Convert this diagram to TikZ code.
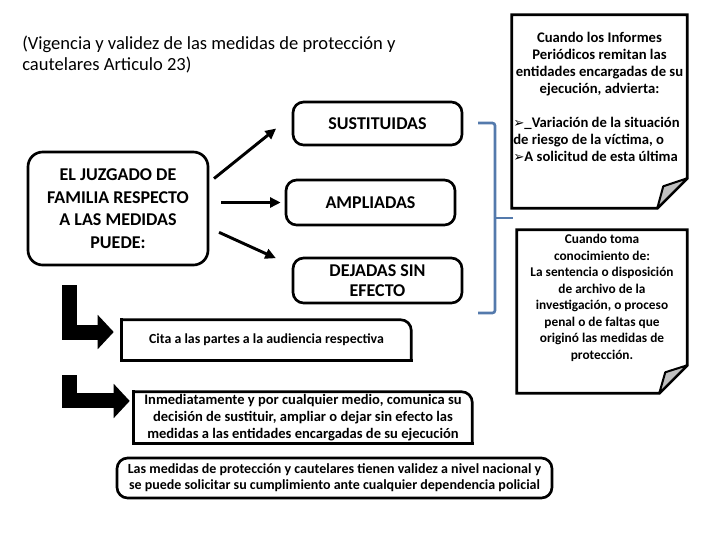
\documentclass[tikz,border=0pt]{standalone}
\usepackage{fontspec}
\setmainfont{Carlito}
\newfontfamily\dejavu{DejaVu Sans}
\usetikzlibrary{arrows.meta}
\definecolor{azul}{RGB}{84,122,172}
\newcommand{\vineta}{{\dejavu\fontsize{10}{10}\selectfont\char"27A2}}

\begin{document}
\begin{tikzpicture}[x=0.75pt,y=-0.75pt,
  caja/.style={draw, line width=2pt, rounded corners=8pt, align=center, inner sep=0pt},
  mayus/.style={font=\fontsize{13.5}{15}\selectfont\bfseries},
  marco/.style={line width=2pt, line cap=rect},
  flecha/.style={line width=2.2pt, -{Triangle[length=8pt,width=7.5pt]}},
  bloque/.style={line width=11.25pt, line join=miter, -{Triangle[length=12pt,width=25pt]}},
  hoja/.style={line width=2.2pt, line join=miter},
  pliegue/.style={line width=1.5pt, line join=round, fill=gray!50},
  corchete/.style={azul, line width=2pt, rounded corners=2pt}]
\useasboundingbox (0,0) rectangle (720,540);

\node[inner sep=0pt, anchor=west, align=left, font=\fontsize{13.9}{15.75}\selectfont] (titulo) at (22,55) {(Vigencia y validez de las medidas de protección y\\cautelares Articulo 23)};

\node[caja, rounded corners=11pt, minimum width=135pt, minimum height=84.75pt, font=\fontsize{13.5}{16.9}\selectfont\bfseries] (juzgado) at (118,208.5) {EL JUZGADO DE\\FAMILIA RESPECTO\\A LAS MEDIDAS\\PUEDE:};

\node[caja, mayus, minimum width=126.75pt, minimum height=32.25pt] (sust) at (377.5,123.5) {SUSTITUIDAS};
\node[caja, mayus, minimum width=126.75pt, minimum height=33.75pt] (ampl) at (370.5,202.5) {AMPLIADAS};
\node[caja, mayus, minimum width=126.75pt, minimum height=33.75pt] (dej) at (377.5,280.5) {DEJADAS SIN\\EFECTO};

\draw[flecha, shorten <=4.5pt, shorten >=15pt] (juzgado.16) -- (sust.175);
\draw[flecha, shorten <=9pt, shorten >=3pt] (juzgado.east |- ampl.west) -- (ampl.west);
\draw[flecha, shorten <=8pt, shorten >=13pt] (juzgado.-12) -- (dej.170);

\node[inner sep=0pt, align=center, minimum width=216.75pt, minimum height=30pt, font=\fontsize{10.4}{13}\selectfont\bfseries] (cita) at (266.5,340) {Cita a las partes a la audiencia respectiva};
\draw[marco] (cita.north west) |- (cita.south east);
\draw[marco, rounded corners=8pt] (cita.north west) -| (cita.south east);

\node[inner sep=0pt, align=center, minimum width=253.5pt, minimum height=38.25pt, font=\fontsize{10.9}{12.75}\selectfont\bfseries] (comunica) at (303,417.5) {Inmediatamente y por cualquier medio, comunica su\\decisión de sustituir, ampliar o dejar sin efecto las\\medidas a las entidades encargadas de su ejecución};
\draw[marco] (comunica.north west) |- (comunica.south east);
\draw[marco, rounded corners=8pt] (comunica.north west) -| (comunica.south east);

\node[caja, font=\fontsize{10.5}{12}\selectfont\bfseries, minimum width=326.25pt, minimum height=30pt] (validez) at (334.5,478) {Las medidas de protección y cautelares tienen validez a nivel nacional y\\se puede solicitar su cumplimiento ante cualquier dependencia policial};

\coordinate (ini1) at (69.5,285);
\coordinate (ini2) at (69.5,375);
\draw[bloque, shorten >=6pt] (ini1) |- ([yshift=6pt]cita.west);
\draw[bloque, shorten >=3pt] (ini2) |- ([yshift=12.4pt]comunica.west);

\draw[corchete] (478,123) -- (495,123) -- (495,313) -- (478,313);
\draw[corchete] (495,218) -- (513,218);

\node[inner sep=0pt, minimum width=131.25pt, minimum height=144.75pt] (informes) at (599.5,111.5) {};
\draw[hoja] (informes.north west) -- (informes.north east) -- ([yshift=22.5pt]informes.south east) -- ([xshift=-22.5pt]informes.south east) -- (informes.south west) -- cycle;
\draw[pliegue] ([yshift=22.5pt]informes.south east) -- ([xshift=-22.5pt]informes.south east) -- ([xshift=-18pt,yshift=16.5pt]informes.south east) -- cycle;
\node[inner sep=0pt, align=center, font=\fontsize{11}{12.6}\selectfont\bfseries] (advierta) at (599.5,64) {Cuando los Informes\\Periódicos remitan las\\entidades encargadas de su\\ejecución, advierta:};
\node[inner sep=0pt, anchor=west, align=left, font=\fontsize{11}{12.75}\selectfont\bfseries] (riesgo) at (513,139) {\vineta\_Variación de la situación\\de riesgo de la víctima, o\\\vineta A solicitud de esta última};

\node[inner sep=0pt, minimum width=127.5pt, minimum height=122.25pt] (toma) at (602,311.5) {};
\draw[hoja] (toma.north west) -- (toma.north east) -- ([yshift=21pt]toma.south east) -- ([xshift=-21pt]toma.south east) -- (toma.south west) -- cycle;
\draw[pliegue] ([yshift=21pt]toma.south east) -- ([xshift=-21pt]toma.south east) -- ([xshift=-16.5pt,yshift=15.75pt]toma.south east) -- cycle;
\node[inner sep=0pt, align=center, font=\fontsize{10}{12.4}\selectfont\bfseries] (sentencia) at (602,298) {Cuando toma\\conocimiento de:\\La sentencia o disposición\\de archivo de la\\investigación, o proceso\\penal o de faltas que\\originó las medidas de\\protección.};
\end{tikzpicture}
\end{document}
